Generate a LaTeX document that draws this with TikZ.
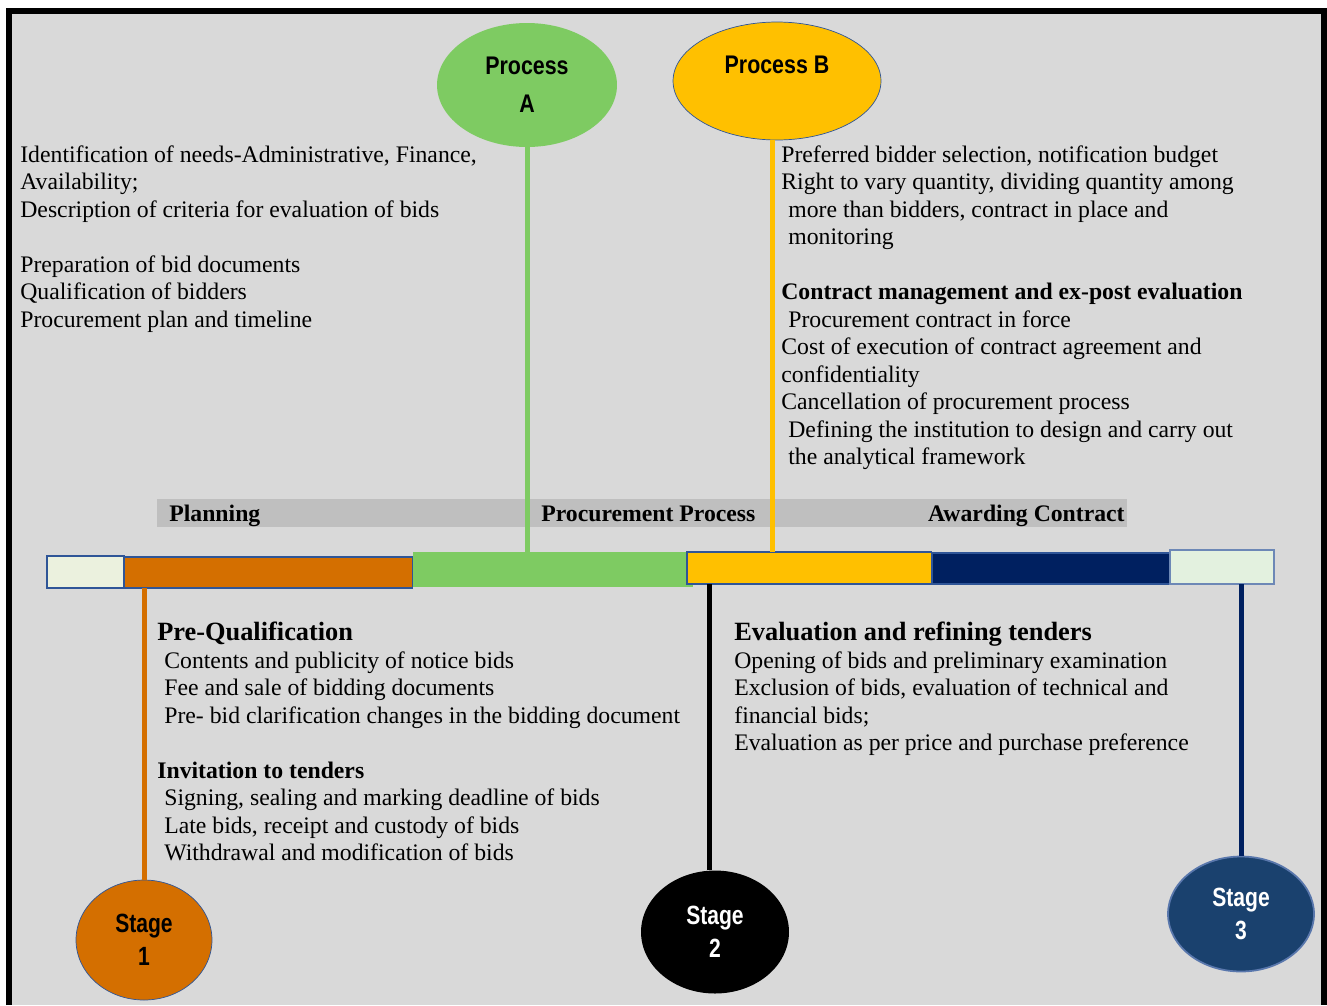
\documentclass[tikz,border=0pt]{standalone}
\usepackage{fontspec}
\setmainfont{Liberation Serif}
\newfontfamily\stagefont[FakeStretch=0.8]{Liberation Sans}
\newfontfamily\procfont[FakeStretch=0.84]{Liberation Sans}
\usetikzlibrary{shapes.geometric,positioning}
\definecolor{panelgrey}{HTML}{D9D9D9}
\definecolor{bandgrey}{HTML}{BFBFBF}
\definecolor{procgreen}{RGB}{126,203,98}
\definecolor{procyellow}{HTML}{FFC000}
\definecolor{stageorange}{RGB}{212,111,0}
\definecolor{stagenavy}{HTML}{002060}
\definecolor{stageblue}{RGB}{26,65,110}
\definecolor{edgeblue}{HTML}{2F5597}
\definecolor{palegreen}{HTML}{EBF1DE}
\definecolor{palemint}{HTML}{E3F1DF}
\newcommand{\ind}{\hspace*{0.14cm}}
\tikzset{
  bubble/.style={ellipse, inner sep=0pt, align=center, font=\stagefont\bfseries\fontsize{15}{19}\selectfont},
  procbubble/.style={bubble, font=\procfont\bfseries\fontsize{14.5}{21.5}\selectfont},
  seg/.style={rectangle, anchor=north west, inner sep=0pt, outer sep=0pt, draw=edgeblue, line width=0.6pt},
  tick/.style={line width=0.1cm},
  blurb/.style={anchor=north west, inner sep=0pt, align=left, font=\fontsize{13.5}{15.65}\selectfont},
  bandlabel/.style={inner sep=0pt, font=\bfseries\fontsize{13.5}{15}\selectfont}
}

\begin{document}
\begin{tikzpicture}[x=0.02cm, y=-0.02cm]
	\useasboundingbox (0,0) rectangle (1327,1005);
	%%%%% START %%%%%
	\fill[white] (0,0) rectangle (1327,1005);
	\fill[panelgrey] (9,11) rectangle (1324,1005);
	\draw[line width=0.12cm] (9,1005) -- (9,11) -- (1324,11) -- (1324,1005);
	
	% grey band with phase names
	\node[fill=bandgrey, anchor=north west, inner sep=0pt, minimum width=19.4cm, minimum height=0.56cm] (band) at (157,499) {};
	\node[bandlabel, anchor=base west] (lblPlan) at (169,521) {Planning};
	\node[bandlabel, anchor=base west] (lblProc) at (541,521) {Procurement Process};
	\node[bandlabel, anchor=base east] (lblAward) at (1125,521) {Awarding Contract};
	
	% timeline bar
	\node[seg, fill=palegreen, minimum width=1.54cm, minimum height=0.64cm] (boxL) at (47,556) {};
	\node[seg, fill=stageorange, minimum width=5.78cm, minimum height=0.62cm] (barO) at (124,557) {};
	\node[seg, fill=procgreen, draw=none, minimum width=5.6cm, minimum height=0.7cm] (barG) at (413,552) {};
	\node[seg, fill=procyellow, minimum width=4.9cm, minimum height=0.64cm] (barY) at (687,552) {};
	\node[seg, fill=stagenavy, minimum width=4.76cm, minimum height=0.62cm] (barN) at (932,553) {};
	\node[seg, fill=palemint, draw=edgeblue!70, minimum width=2.08cm, minimum height=0.68cm] (boxR) at (1170,550) {};
	
	% process and stage bubbles
	\node[procbubble, fill=procgreen, minimum width=3.6cm, minimum height=2.48cm] (procA) at (527,85) {Process\\A};
	\node[procbubble, fill=procyellow, draw=edgeblue, minimum width=4.16cm, minimum height=2.36cm] (procB) at (777,81) {Process B\\[-3pt]\phantom{A}};
	\node[bubble, fill=stageorange, draw=edgeblue, minimum width=2.72cm, minimum height=2.4cm] (stageA) at (144,940) {Stage\\1};
	\node[bubble, fill=black, text=white, minimum width=2.96cm, minimum height=2.46cm] (stageB) at (715,932) {Stage\\2};
	\node[bubble, fill=stageblue, draw=edgeblue!80!white, line width=1pt, text=white, minimum width=2.92cm, minimum height=2.3cm] (stageC) at (1241,914) {Stage\\3};
	
	% stems
	\draw[tick, procgreen] (procA.south) -- (procA.south |- barG.north);
	\draw[tick, procyellow] ([xshift=-0.1cm]procB.south) -- ([xshift=-0.1cm]procB.south |- barY.north);
	\draw[tick, stageorange] (stageA.north) -- (stageA.north |- barO.south);
	\draw[tick, black] ([xshift=-0.12cm]stageB.north) -- ([xshift=-0.12cm]stageB.north |- barY.south);
	\draw[tick, stagenavy] (stageC.north) -- (stageC.north |- boxR.south);
	
	% text blocks
	\node[blurb] (txtPlan) at (20,145) {Identification of needs-Administrative, Finance,\\Availability;\\Description of criteria for evaluation of bids\\[15.65pt]Preparation of bid documents\\Qualification of bidders\\Procurement plan and timeline};
	\node[blurb] (txtAward) at (781,145) {Preferred bidder selection, notification budget\\Right to vary quantity, dividing quantity among\\\ind more than bidders, contract in place and\\\ind monitoring\\[15.65pt]\textbf{Contract management and ex-post evaluation}\\\ind Procurement contract in force\\Cost of execution of contract agreement and\\confidentiality\\Cancellation of procurement process\\\ind Defining the institution to design and carry out\\\ind the analytical framework};
	\node[blurb] (txtPreQ) at (157,622) {{\fontsize{15}{15.65}\selectfont\bfseries Pre-Qualification}\\\ind Contents and publicity of notice bids\\\ind Fee and sale of bidding documents\\\ind Pre- bid clarification changes in the bidding document\\[15.65pt]\textbf{Invitation to tenders}\\\ind Signing, sealing and marking deadline of bids\\\ind Late bids, receipt and custody of bids\\\ind Withdrawal and modification of bids};
	\node[blurb] (txtEval) at (734,622) {{\fontsize{15}{15.65}\selectfont\bfseries Evaluation and refining tenders}\\Opening of bids and preliminary examination\\Exclusion of bids, evaluation of technical and\\financial bids;\\Evaluation as per price and purchase preference};
	%%%%% END %%%%%
\end{tikzpicture}
\end{document}
